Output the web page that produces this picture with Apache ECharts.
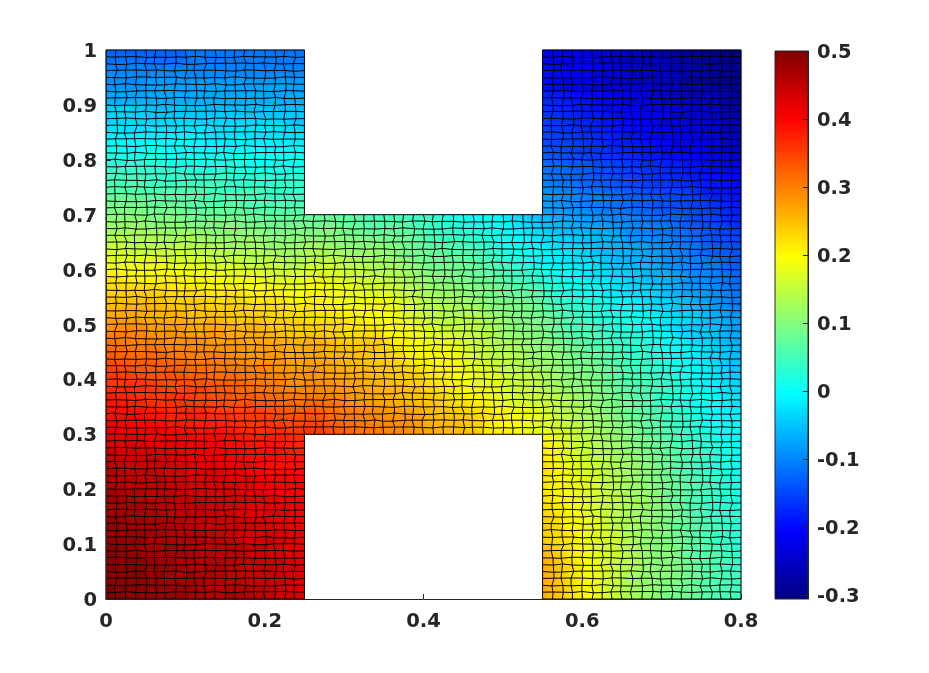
<!DOCTYPE html>
<html><head><meta charset="utf-8">
<style>html,body{margin:0;padding:0;background:#fff}#c{width:929px;height:673px}</style>
<script src="https://cdn.jsdelivr.net/npm/echarts@6/dist/echarts.min.js"></script>
</head><body><div id="c"></div>
<script>
// Field values in hundredths, cells of 0.025 x 0.025, rows from y=1 downward.
const leftLeg = [
[-12,-12,-12,-12,-11,-11,-11,-11,-11,-11],[-10,-10,-10,-10,-10,-10,-10,-10,-10,-10],[-9,-9,-8,-8,-8,-8,-8,-8,-8,-8],[-7,-7,-7,-7,-7,-7,-7,-7,-7,-7],
[-4,-4,-5,-5,-5,-5,-5,-5,-5,-5],[-3,-3,-3,-3,-3,-3,-3,-3,-3,-4],[-1,-1,-1,-1,-1,-2,-2,-2,-2,-2],[1,1,1,0,0,0,0,0,0,0],
[3,3,3,2,2,2,2,1,1,1],[5,5,4,4,4,4,3,3,3,3],[7,7,6,6,6,5,5,5,4,4],[9,9,8,8,7,7,7,6,6,6],
[11,11,10,10,9,9,9,8,8,8],[13,13,13,12,12,11,11,11,10,10],[16,15,15,15,14,14,13,13,12,12],[18,18,18,17,17,16,16,15,15,14],
[21,20,20,20,19,19,18,18,17,17],[23,23,23,22,22,21,21,20,20,19],[25,25,25,24,24,23,23,22,22,21],[27,27,26,26,25,25,24,24,23,23],
[29,29,28,28,27,27,26,26,25,24],[31,30,30,29,29,28,28,27,27,26],[33,32,32,31,30,30,29,28,28,27],[35,34,33,33,32,31,31,30,29,28],
[36,36,35,34,34,33,32,31,30,29],[38,37,36,36,35,34,33,33,32,31],[39,39,38,37,37,36,35,35,34,33],[41,40,40,39,38,38,37,36,36,35],
[42,42,41,41,40,40,39,38,38,37],[44,43,43,42,41,41,40,39,39,38],[45,44,44,43,42,42,41,40,39,39],[46,45,45,44,43,43,42,41,40,40],
[47,46,45,45,44,43,43,42,41,40],[47,47,46,45,45,44,43,42,42,41],[48,47,47,46,45,44,44,43,42,41],[48,48,47,46,46,45,44,43,43,42],
[49,48,47,47,46,45,45,44,43,42],[49,49,48,47,46,46,45,44,44,43],[49,49,48,47,47,46,45,44,44,43],[50,49,48,48,47,46,46,45,44,43]];
const bridge = [
[8,8,7,6,6,5,4,2,1,0,-2,-4],[10,10,9,8,8,7,5,4,3,1,0,-2],[13,12,11,11,10,8,7,6,5,3,1,0],[15,15,14,13,12,10,8,8,7,5,3,1],
[18,17,16,15,14,12,10,9,8,7,5,3],[20,19,18,17,16,14,12,11,10,9,7,6],[21,20,19,19,18,16,14,13,12,10,9,8],[22,22,21,20,19,17,15,14,14,12,10,9],
[24,23,22,22,20,19,17,16,15,13,11,10],[26,25,24,24,22,20,19,18,16,14,13,11],[27,26,25,24,23,21,20,19,17,15,14,12],[28,27,26,25,24,23,21,20,18,17,15,14],
[29,28,27,26,25,24,22,21,19,18,16,15],[31,30,28,27,26,25,24,22,21,19,17,16],[33,31,30,29,28,27,25,24,23,21,19,18],[35,33,31,30,29,28,26,25,24,21,20,18]];
const rightLeg = [
[-21,-22,-23,-24,-25,-26,-27,-28,-29,-30],[-20,-21,-22,-23,-24,-25,-26,-27,-28,-29],[-20,-21,-22,-23,-24,-25,-26,-27,-28,-29],[-18,-19,-20,-21,-22,-23,-24,-25,-26,-28],
[-17,-18,-19,-20,-21,-22,-23,-24,-25,-27],[-16,-17,-18,-19,-20,-21,-22,-23,-24,-26],[-15,-16,-17,-18,-19,-20,-21,-22,-23,-25],[-14,-15,-16,-17,-18,-19,-20,-21,-22,-24],
[-12,-13,-14,-15,-16,-17,-18,-19,-20,-21],[-11,-12,-13,-14,-15,-16,-17,-18,-19,-20],[-9,-10,-11,-12,-13,-14,-15,-16,-18,-19],[-8,-9,-10,-11,-12,-13,-14,-15,-16,-18],
[-6,-7,-8,-9,-10,-11,-12,-14,-15,-17],[-4,-5,-6,-7,-9,-10,-11,-12,-14,-15],[-2,-3,-5,-6,-7,-8,-10,-11,-13,-14],[-1,-2,-3,-5,-6,-7,-9,-10,-11,-13],
[1,0,-2,-3,-4,-6,-7,-9,-10,-12],[3,1,0,-2,-3,-4,-6,-8,-9,-11],[5,3,2,0,-1,-3,-4,-6,-8,-10],[7,5,3,2,1,-1,-3,-4,-6,-8],
[8,6,5,3,2,0,-2,-4,-5,-7],[10,8,6,5,3,2,0,-2,-4,-6],[11,9,8,6,4,3,1,-1,-3,-5],[12,10,9,7,5,4,2,0,-2,-4],
[13,11,10,8,6,5,3,1,-1,-3],[15,13,11,9,7,5,3,1,0,-2],[16,14,12,10,8,6,4,2,0,-1],[17,15,13,11,9,7,5,3,1,0],
[19,16,14,12,10,8,6,4,2,0],[20,17,15,13,11,9,7,5,3,1],[21,18,16,14,12,10,7,5,3,1],[21,19,17,14,12,10,8,6,4,2],
[21,19,17,15,13,11,8,6,4,2],[22,20,17,15,13,11,9,6,4,3],[23,20,18,15,13,11,9,7,5,3],[23,21,18,16,13,11,9,7,5,3],
[24,21,18,16,14,11,10,7,6,4],[25,22,19,16,14,11,10,8,6,4],[25,22,19,16,13,11,10,8,6,5],[25,22,19,16,13,11,9,8,6,5]];
const jetStops = [[0,'#000080'],[0.125,'#0000ff'],[0.375,'#00ffff'],[0.625,'#ffff00'],[0.875,'#ff0000'],[1,'#800000']];
const colorRange = [-0.306, 0.5];
const colorTicks = [-0.3, -0.2, -0.1, 0, 0.1, 0.2, 0.3, 0.4, 0.5];
const meshWobble = [8,-12,3,14,-6,-15,9,2,-10,13,-4,5,-14,11,-2,15,-8,5,-12,7,-1,12,-14,3,9,-5,14,-9,1,-13,6,11,-3,-7,10,-11,4];

const CELL = 0.025, MESH = 0.0125, COLS = 32, ROWS = 40;
const V = [];
for (let r = 0; r < ROWS; r++) {
  const mid = (r >= 12 && r < 28) ? bridge[r - 12] : new Array(12).fill(null);
  V.push(leftLeg[r].concat(mid, rightLeg[r]).map(n => n === null ? null : n / 100));
}
const hex = s => [1, 3, 5].map(k => parseInt(s.substr(k, 2), 16));
function colorOf(v) {
  const p = Math.max(0, Math.min(1, (v - colorRange[0]) / (colorRange[1] - colorRange[0])));
  for (let k = 1; k < jetStops.length; k++) {
    if (p <= jetStops[k][0]) {
      const a = jetStops[k - 1], b = jetStops[k], t = (p - a[0]) / (b[0] - a[0]);
      const ca = hex(a[1]), cb = hex(b[1]);
      return 'rgb(' + ca.map((c, i) => Math.round(c + (cb[i] - c) * t)).join(',') + ')';
    }
  }
  return jetStops[jetStops.length - 1][1];
}
const at = (r, c) => (r >= 0 && r < ROWS && c >= 0 && c < COLS) ? V[r][c] : null;
function slope(a, m, b) {
  if (a !== null && b !== null) return (b - a) / 2;
  if (b !== null) return b - m;
  if (a !== null) return m - a;
  return 0;
}
const cellItems = [];
for (let r = 0; r < ROWS; r++) for (let c = 0; c < COLS; c++) {
  if (V[r][c] === null) continue;
  cellItems.push([(c + 0.5) * CELL, 1 - (r + 0.5) * CELL, V[r][c],
    slope(at(r, c - 1), V[r][c], at(r, c + 1)), slope(at(r - 1, c), V[r][c], at(r + 1, c))]);
}
function renderCell(params, api) {
  const x = api.value(0), y = api.value(1), v = api.value(2);
  const p0 = api.coord([x - CELL / 2, y + CELL / 2]), p1 = api.coord([x + CELL / 2, y - CELL / 2]);
  const w = p1[0] - p0[0], h = p1[1] - p0[1];
  const gx = api.value(3) / w, gy = api.value(4) / h, g = Math.hypot(gx, gy);
  const shape = { x: p0[0] - 0.3, y: p0[1] - 0.3, width: w + 0.6, height: h + 0.6 };
  if (g < 1e-7) return { type: 'rect', shape, style: { fill: colorOf(v) } };
  const ux = gx / g, uy = gy / g, L = (Math.abs(ux) * w + Math.abs(uy) * h) / 2, d = g * L;
  return { type: 'rect', shape,
    style: { fill: new echarts.graphic.LinearGradient(
      0.5 - ux * L / w, 0.5 - uy * L / h, 0.5 + ux * L / w, 0.5 + uy * L / h,
      [{ offset: 0, color: colorOf(v - d) }, { offset: 0.5, color: colorOf(v) }, { offset: 1, color: colorOf(v + d) }]) } };
}
// Mesh: i along x (0..64), j along y (0..80); hole is i 20..44 outside j 24..56.
const inCell = (i, j) => i >= 0 && i < 64 && j >= 0 && j < 80 && !(i >= 20 && i < 44 && (j < 24 || j >= 56));
const interior = (i, j) => inCell(i, j) && inCell(i - 1, j) && inCell(i, j - 1) && inCell(i - 1, j - 1);
function node(i, j) {
  const n = meshWobble.length;
  const on = interior(i, j);
  const dx = on ? meshWobble[(i * 7 + j * 11) % n] / 100 : 0;
  const dy = on ? 0.7 * meshWobble[(i * 13 + j * 5 + 9) % n] / 100 : 0;
  return [(i + dx) * MESH, (j + dy) * MESH];
}
const meshPaths = [];
for (let i = 0; i <= 64; i++) {
  const hole = i > 20 && i < 44;
  const from = hole ? 24 : 0, to = hole ? 56 : 80, p = [];
  for (let j = from; j <= to; j++) p.push(node(i, j));
  meshPaths.push(p);
}
for (let j = 0; j <= 80; j++) {
  const hole = j < 24 || j > 56;
  const spans = hole ? [[0, 20], [44, 64]] : [[0, 64]];
  spans.forEach(s => { const p = []; for (let i = s[0]; i <= s[1]; i++) p.push(node(i, j)); meshPaths.push(p); });
}
const meshItems = meshPaths.map((p, k) => [p[0][0], p[0][1], k]);
function renderMesh(params, api) {
  const pts = meshPaths[api.value(2)].map(q => api.coord(q));
  return { type: 'polyline', shape: { points: pts }, style: { stroke: '#000', lineWidth: 1, fill: null } };
}
function renderBar(params, api) {
  const a = api.coord([0, colorRange[1]]), b = api.coord([1, colorRange[0]]);
  return { type: 'rect', shape: { x: a[0], y: a[1], width: b[0] - a[0], height: b[1] - a[1] },
    style: { stroke: '#262626', lineWidth: 1,
      fill: new echarts.graphic.LinearGradient(0, 1, 0, 0, jetStops.map(s => ({ offset: s[0], color: s[1] }))) } };
}
const font = { color: '#262626', fontFamily: 'DejaVu Sans', fontWeight: 'bold', fontSize: 19.5 };
const line = { show: true, onZero: false, lineStyle: { color: '#262626', width: 1 } };
const tick = { show: true, inside: true, length: 5, lineStyle: { color: '#262626', width: 1 } };
const valueLabel = { ...font, margin: 9, verticalAlign: 'top', lineHeight: 4 };
const chart = echarts.init(document.getElementById('c'), null, { renderer: 'canvas' });
chart.setOption({
  animation: false, backgroundColor: '#fff',
  grid: [{ left: 106, top: 50, width: 635, height: 549 }, { left: 775, top: 51, width: 33, height: 548 }],
  xAxis: [
    { type: 'value', gridIndex: 0, min: 0, max: 0.8, interval: 0.2, z: 10, splitLine: { show: false }, axisLine: line, axisTick: tick, axisLabel: { ...font, margin: 13 } },
    { type: 'value', gridIndex: 1, min: 0, max: 1, show: false }
  ],
  yAxis: [
    { type: 'value', gridIndex: 0, min: 0, max: 1, interval: 0.1, z: 10, splitLine: { show: false }, axisLine: line, axisTick: tick, axisLabel: valueLabel },
    { type: 'value', gridIndex: 1, position: 'right', min: colorRange[0], max: colorRange[1], z: 10, splitLine: { show: false }, axisLine: line,
      axisTick: { ...tick, customValues: colorTicks }, axisLabel: { ...valueLabel, customValues: colorTicks } }
  ],
  series: [
    { type: 'custom', xAxisIndex: 0, yAxisIndex: 0, data: cellItems, renderItem: renderCell, encode: { x: 0, y: 1 }, silent: true, clip: false, z: 1, progressive: 0 },
    { type: 'custom', xAxisIndex: 0, yAxisIndex: 0, data: meshItems, renderItem: renderMesh, encode: { x: 0, y: 1 }, silent: true, clip: false, z: 2, progressive: 0 },
    { type: 'custom', xAxisIndex: 1, yAxisIndex: 1, data: [[0, colorRange[0]]], renderItem: renderBar, encode: { x: 0, y: 1 }, silent: true, clip: false, z: 1 }
  ]
});
</script></body></html>
